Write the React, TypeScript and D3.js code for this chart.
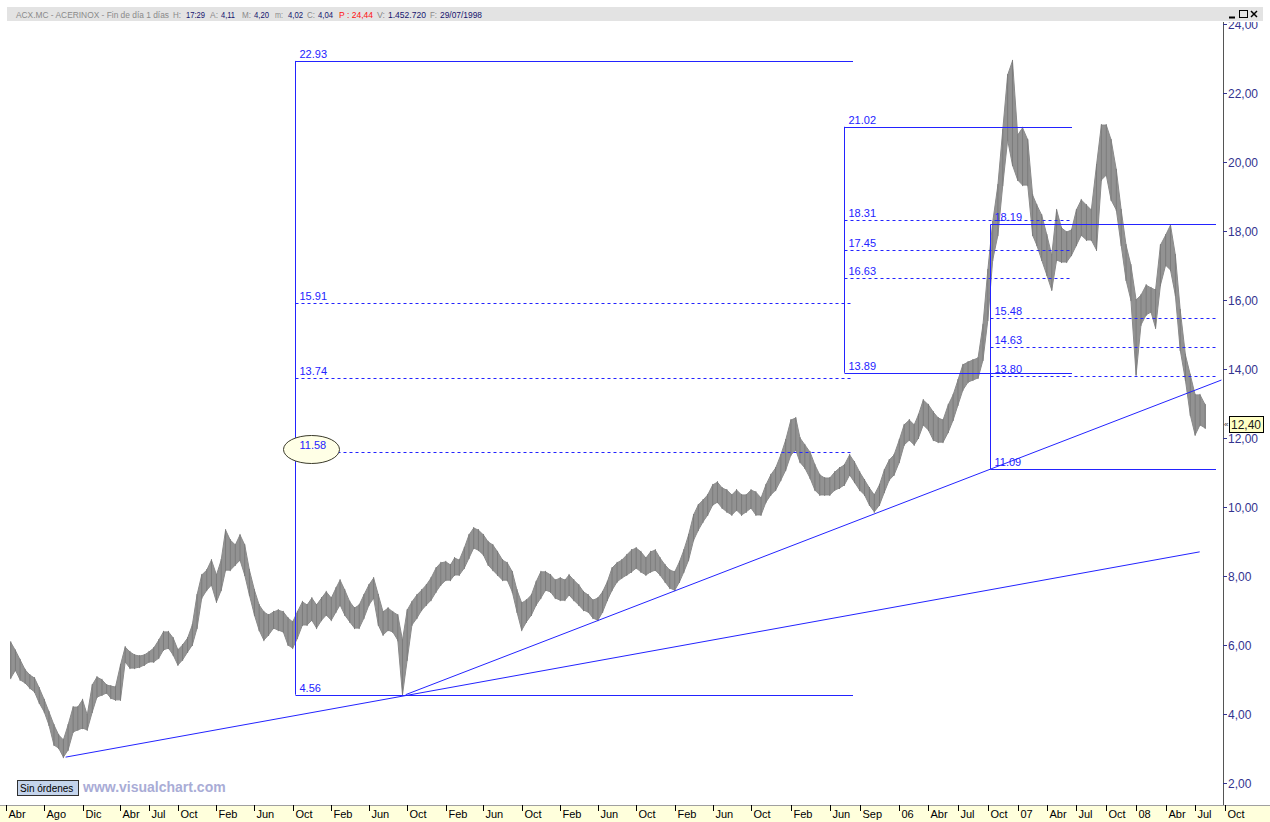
import React from 'react';
import * as d3 from 'd3';

const W = 1270;
const H = 822;

// half-month samples (16th / 1st) of ACX.MC daily bars, 16 Apr 1998 -> 1 Aug 2008
const highs = [
  // 1998 (from 16 Apr)
  6.08, 5.84, 5.57, 5.28, 5.13, 5.04, 4.75, 4.41, 4.06, 3.68, 3.39, 3.25, 3.68, 4.2, 4.2, 4.41, 3.97,
  // 1999
  4.84, 5.07, 4.99, 4.84, 4.81, 4.78, 5.42, 5.94, 5.8, 5.71, 5.68, 5.71, 5.8, 5.91, 6.14, 6.38, 6.38, 6.2, 5.86, 6.0, 6.2, 6.58, 7.45, 8.03,
  // 2000
  8.17, 8.46, 8.03, 8.46, 9.33, 9.04, 8.9, 9.19, 8.9, 8.17, 7.59, 7.16, 6.96, 6.87, 6.96, 7.01, 6.96, 6.78, 6.67, 6.96, 7.25, 7.16, 7.36, 7.16,
  // 2001
  7.36, 7.54, 7.36, 7.65, 7.88, 7.59, 7.25, 7.07, 7.16, 7.45, 7.74, 7.94, 7.45, 6.96, 7.07, 6.96, 6.87, 6.14, 7.01, 7.25, 7.45, 7.59, 7.74, 7.94,
  // 2002
  8.23, 8.38, 8.41, 8.32, 8.52, 8.46, 8.81, 9.19, 9.39, 9.33, 9.19, 8.99, 8.9, 8.7, 8.46, 8.38, 8.12, 7.59, 7.22, 7.3, 7.45, 7.83, 8.12, 8.12,
  // 2003
  8.03, 7.88, 7.94, 7.88, 8.03, 7.88, 7.74, 7.54, 7.45, 7.3, 7.36, 7.54, 7.83, 8.23, 8.38, 8.46, 8.61, 8.75, 8.81, 8.7, 8.52, 8.7, 8.75, 8.52,
  // 2004
  8.32, 8.17, 8.12, 8.41, 8.75, 9.19, 9.77, 10.06, 10.2, 10.35, 10.64, 10.72, 10.55, 10.49, 10.35, 10.49, 10.35, 10.35, 10.49, 10.43, 10.26, 10.64, 10.93, 11.13,
  // 2005
  11.51, 11.94, 12.52, 12.58, 12.0, 11.8, 11.59, 11.22, 10.93, 10.84, 10.84, 11.01, 11.13, 11.22, 11.51, 11.3, 11.01, 10.78, 10.55, 10.35, 10.64, 11.07, 11.36, 11.51,
  // 2006
  11.94, 12.38, 12.52, 12.38, 12.67, 13.1, 12.96, 12.75, 12.58, 12.52, 12.96, 13.25, 13.68, 14.12, 14.2, 14.26, 14.32, 15.28, 16.87, 18.26, 19.33, 20.93, 22.52, 22.93,
  // 2007
  20.78, 20.99, 20.64, 19.04, 18.75, 18.46, 17.88, 17.3, 18.61, 18.09, 17.97, 18.03, 18.61, 18.9, 18.75, 18.61, 19.91, 21.07, 21.07, 20.64, 19.77, 18.61, 17.59, 17.01,
  // 2008 (to 1 Aug)
  16.0, 16.14, 16.43, 16.35, 16.29, 17.59, 17.88, 18.17, 17.3, 15.71, 14.41, 13.83, 13.25, 13.25, 12.96,
];

const lows = [
  5.04, 5.27, 4.99, 4.9, 4.75, 4.64, 4.32, 4.06, 3.68, 3.1, 3.01, 2.75, 2.96, 3.48, 3.54, 3.59, 3.54,
  4.06, 4.49, 4.55, 4.61, 4.46, 4.41, 4.41, 5.51, 5.33, 5.33, 5.36, 5.42, 5.51, 5.51, 5.62, 5.86, 5.91, 5.71, 5.42, 5.57, 5.8, 6.0, 6.49, 7.36,
  7.59, 7.74, 7.25, 7.59, 8.17, 8.17, 8.32, 8.46, 8.03, 7.45, 6.87, 6.43, 6.14, 6.29, 6.49, 6.43, 6.38, 6.0, 5.91, 6.2, 6.58, 6.58, 6.72, 6.49,
  6.72, 6.87, 6.72, 6.96, 7.16, 6.87, 6.67, 6.49, 6.49, 6.78, 7.16, 7.36, 6.58, 6.29, 6.43, 6.38, 6.14, 4.56, 5.57, 6.58, 6.78, 7.01, 7.16, 7.3,
  7.54, 7.74, 7.88, 7.88, 8.03, 8.03, 8.23, 8.52, 8.81, 8.75, 8.61, 8.32, 8.17, 8.03, 7.88, 7.88, 7.54, 6.96, 6.43, 6.67, 6.87, 7.16, 7.36, 7.59,
  7.54, 7.36, 7.3, 7.3, 7.45, 7.3, 7.16, 7.01, 6.96, 6.78, 6.72, 6.96, 7.3, 7.59, 7.83, 7.94, 8.03, 8.12, 8.23, 8.12, 8.03, 8.12, 8.17, 8.03,
  7.83, 7.65, 7.59, 7.83, 8.12, 8.46, 9.04, 9.33, 9.57, 9.77, 10.06, 10.14, 9.97, 9.86, 9.77, 9.91, 9.77, 9.86, 9.97, 9.77, 9.77, 10.14, 10.35, 10.49,
  10.78, 11.07, 11.51, 11.65, 11.3, 11.13, 10.84, 10.49, 10.35, 10.35, 10.35, 10.49, 10.55, 10.64, 10.93, 10.72, 10.49, 10.35, 10.06, 9.86, 10.06, 10.43, 10.78, 10.93,
  11.3, 11.8, 11.94, 11.8, 12.0, 12.38, 12.23, 11.94, 11.88, 11.88, 12.17, 12.52, 12.96, 13.39, 13.62, 13.68, 13.74, 14.26, 15.42, 17.16, 17.88, 19.33, 20.64, 19.91,
  19.48, 19.33, 19.33, 17.88, 17.59, 17.16, 16.72, 16.29, 17.16, 17.1, 17.1, 17.3, 17.59, 17.88, 17.74, 17.74, 17.45, 19.48, 19.62, 18.9, 18.61, 17.59, 16.58, 16.0,
  13.83, 15.28, 15.57, 15.65, 15.19, 16.43, 17.01, 16.87, 16.14, 14.55, 13.68, 12.67, 12.09, 12.38, 12.29,
];
const lastClose = 12.4;

// time axis (first trading day of the labelled month)
const tickDates = [
  '1998-04-01', '1998-08-01', '1998-12-01', '1999-04-01', '1999-07-01', '1999-10-01',
  '2000-02-01', '2000-06-01', '2000-10-01', '2001-02-01', '2001-06-01', '2001-10-01',
  '2002-02-01', '2002-06-01', '2002-10-01', '2003-02-01', '2003-06-01', '2003-10-01',
  '2004-02-01', '2004-06-01', '2004-10-01', '2005-02-01', '2005-06-01', '2005-09-01',
  '2006-01-01', '2006-04-01', '2006-07-01', '2006-10-01', '2007-01-01', '2007-04-01',
  '2007-07-01', '2007-10-01', '2008-01-01', '2008-04-01', '2008-07-01', '2008-10-01',
];
const tickLabels = [
  'Abr', 'Ago', 'Dic', 'Abr', 'Jul', 'Oct', 'Feb', 'Jun', 'Oct', 'Feb', 'Jun', 'Oct',
  'Feb', 'Jun', 'Oct', 'Feb', 'Jun', 'Oct', 'Feb', 'Jun', 'Oct', 'Feb', 'Jun', 'Sep',
  '06', 'Abr', 'Jul', 'Oct', '07', 'Abr', 'Jul', 'Oct', '08', 'Abr', 'Jul', 'Oct',
];
const priceTicks = [2, 4, 6, 8, 10, 12, 14, 16, 18, 20, 22, 24];

// drawn objects: trend lines and fibonacci retracements
const trendLines = [
  { from: ['1998-10-08', 2.75], to: ['2008-07-15', 8.7] },
  { from: ['2001-09-26', 4.56], to: ['2008-09-20', 13.68] },
];
const fibBoxes = [
  { start: '2000-10-08', end: '2005-08-10', levels: [22.93, 15.91, 13.74, 11.58, 4.56] },
  { start: '2005-07-16', end: '2007-06-16', levels: [21.02, 18.31, 17.45, 16.63, 13.89] },
  { start: '2006-10-07', end: '2008-09-03', levels: [18.19, 15.48, 14.63, 13.8, 11.09] },
];
const circledLevel = 11.58;

// title bar: text, colour, left edge, width, font size
const header: [string, string, number, number, number][] = [
  ['ACX.MC - ACERINOX - Fin de día 1 días', '#8a8a8a', 16, 153, 8.3],
  ['H:', '#8a8a8a', 173, 8, 9],
  ['17:29', '#14146e', 186, 19, 8.8],
  ['A:', '#8a8a8a', 210, 8, 9],
  ['4,11', '#14146e', 221, 14, 9],
  ['M:', '#8a8a8a', 242, 9, 9],
  ['4,20', '#14146e', 254, 15, 9],
  ['m:', '#8a8a8a', 275, 8, 9],
  ['4,02', '#14146e', 288, 15, 9],
  ['C:', '#8a8a8a', 307, 8, 9],
  ['4,04', '#14146e', 318, 15, 9],
  ['P : 24,44', '#ff1010', 339, 34, 9],
  ['V:', '#8a8a8a', 377, 8, 9],
  ['1.452.720', '#14146e', 388, 38, 9],
  ['F:', '#8a8a8a', 430, 7, 9],
  ['29/07/1998', '#14146e', 440, 42, 9],
];

const BLUE = '#2323ff';
const FONT = '"Liberation Sans", Arial, sans-serif';

export default function App() {
  const parse = d3.timeParse('%Y-%m-%d');
  const plot = { left: 0, right: 1223, top: 22, bottom: 805 };

  const x = d3
    .scaleTime()
    .domain([parse('1998-04-01')!, parse('2004-10-01')!, parse('2008-10-01')!])
    .range([6, 751, 1225]);
  const y = d3.scaleLinear().domain([2, 24]).range([783, 24]);

  const samples = highs.map((h, i) => {
    const m = d3.timeMonth.offset(new Date(1998, 3, 1), Math.floor((i + 1) / 2));
    const date = new Date(m.getFullYear(), m.getMonth(), i % 2 === 0 ? 16 : 1);
    return { date, high: h, low: lows[i] };
  });

  const band = d3
    .area<(typeof samples)[0]>()
    .x((d) => x(d.date))
    .y0((d) => y(d.low))
    .y1((d) => y(d.high));

  const fmt = (v: number) => v.toFixed(2).replace('.', ',');

  return (
    <svg
      width={W}
      height={H}
      style={{ position: 'absolute', left: 0, top: 0, display: 'block', background: '#fff' }}
      fontFamily={FONT}
    >
      <defs>
        <clipPath id="plotClip">
          <rect x={plot.left} y={plot.top} width={plot.right - plot.left} height={plot.bottom - plot.top} />
        </clipPath>
        <clipPath id="axisClip">
          <rect x={plot.right} y={plot.top} width={W - plot.right} height={plot.bottom - plot.top} />
        </clipPath>
      </defs>

      {/* title bar */}
      <rect x={7} y={7} width={1256} height={14} fill="#e3e3e3" />
      {header.map(([t, c, hx, hw, fs], i) => (
        <text key={i} x={hx} y={18} fontSize={fs} fill={c} textLength={hw} lengthAdjust="spacingAndGlyphs">
          {t}
        </text>
      ))}
      <g stroke="#000" fill="none" strokeWidth={1}>
        <line x1={1229} x2={1235} y1={17.5} y2={17.5} strokeWidth={2} />
        <rect x={1239.5} y={10.5} width={8} height={7} />
        <line x1={1251} x2={1257} y1={11} y2={17} strokeWidth={1.5} />
        <line x1={1257} x2={1251} y1={11} y2={17} strokeWidth={1.5} />
      </g>

      {/* price bars */}
      <g clipPath="url(#plotClip)">
        <path d={band(samples) ?? ''} fill="#929292" stroke="#8a8a8a" strokeWidth={1} />
        {samples.map((d, i) => (
          <line key={i} x1={x(d.date)} x2={x(d.date)} y1={y(d.low) + 1} y2={y(d.high) - 1} stroke="#7c7c7c" strokeWidth={1} />
        ))}
      </g>

      {/* drawings */}
      <g clipPath="url(#plotClip)">
        {trendLines.map((l, i) => (
          <line
            key={i}
            x1={x(parse(l.from[0] as string)!)}
            y1={y(l.from[1] as number)}
            x2={x(parse(l.to[0] as string)!)}
            y2={y(l.to[1] as number)}
            stroke={BLUE}
            strokeWidth={1}
          />
        ))}
        {fibBoxes.map((b, i) => {
          const x0 = Math.round(x(parse(b.start)!)) + 0.5;
          const x1 = Math.round(x(parse(b.end)!));
          const top = b.levels[0];
          const bottom = b.levels[b.levels.length - 1];
          return (
            <g key={i}>
              <line x1={x0} x2={x0} y1={y(top)} y2={y(bottom)} stroke={BLUE} />
              {b.levels.map((v, j) => {
                const yy = Math.round(y(v)) + 0.5;
                const solid = j === 0 || j === b.levels.length - 1;
                return (
                  <g key={j}>
                    <line
                      x1={x0}
                      x2={x1}
                      y1={yy}
                      y2={yy}
                      stroke={BLUE}
                      strokeDasharray={solid ? undefined : '3,3'}
                    />
                    {v === circledLevel && (
                      <ellipse cx={x0 + 16} cy={yy - 3} rx={28} ry={14} fill="#ffffe6" stroke="#3a3a2a" strokeWidth={1} />
                    )}
                    <text x={x0 + 4} y={yy - 4} fontSize={11} fill={BLUE}>
                      {v.toFixed(2)}
                    </text>
                  </g>
                );
              })}
            </g>
          );
        })}
      </g>

      {/* price axis */}
      <line x1={plot.right + 0.5} x2={plot.right + 0.5} y1={plot.top} y2={plot.bottom} stroke="#555" />
      <g clipPath="url(#axisClip)">
        {priceTicks.map((p) => (
          <g key={p}>
            <line x1={plot.right} x2={plot.right + 4} y1={Math.round(y(p)) + 0.5} y2={Math.round(y(p)) + 0.5} stroke="#33338f" />
            <text x={plot.right + 5} y={y(p) + 4.5} fontSize={12} fill="#33338f">
              {fmt(p)}
            </text>
          </g>
        ))}
      </g>
      <text x={plot.right + 1} y={y(lastClose) + 3} fontSize={8} fill="#333">
        «
      </text>
      <rect x={plot.right + 6.5} y={Math.round(y(lastClose)) - 7.5} width={34} height={16} fill="#ffffc4" stroke="#000" />
      <text x={plot.right + 8} y={y(lastClose) + 4.5} fontSize={12} fill="#1a1a1a">
        {fmt(lastClose)}
      </text>

      {/* time axis */}
      <rect x={0} y={plot.bottom} width={W} height={H - plot.bottom} fill="#ffffdc" />
      <line x1={0} x2={W} y1={plot.bottom + 0.5} y2={plot.bottom + 0.5} stroke="#a0a0a0" />
      {tickDates.map((d, i) => {
        const tx = Math.round(x(parse(d)!)) + 0.5;
        return (
          <g key={d}>
            <line x1={tx} x2={tx} y1={plot.bottom} y2={plot.bottom + 6} stroke="#000" />
            <text x={tx + 2} y={818} fontSize={11} fill="#000">
              {tickLabels[i]}
            </text>
          </g>
        );
      })}

      {/* footer widgets */}
      <rect x={17.5} y={780.5} width={61} height={15} fill="#c4d4ec" stroke="#303030" />
      <text x={20} y={792} fontSize={10} fill="#000">
        Sin órdenes
      </text>
      <text x={83} y={792} fontSize={14} fontWeight="bold" fill="#a9acd6">
        www.visualchart.com
      </text>
    </svg>
  );
}
